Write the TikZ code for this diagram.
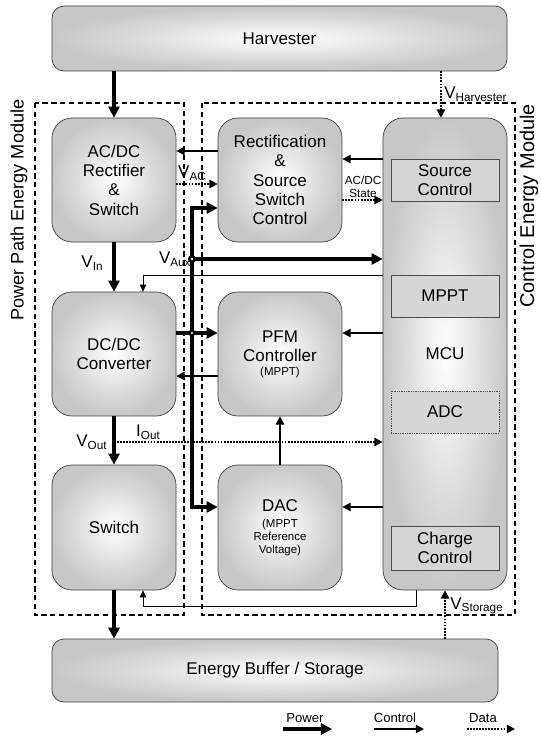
\documentclass[tikz,border=0pt]{standalone}
\usepackage{fontspec}
\setmainfont{Liberation Sans}
\usetikzlibrary{arrows.meta}

\newcommand{\sig}[2]{#1\raisebox{-0.3ex}{\fontsize{10}{10}\selectfont #2}}
\newcommand{\smallf}{\fontsize{9.8}{11}\selectfont}

\begin{document}
\begin{tikzpicture}[x=0.03cm, y=-0.03cm,
    blk/.style={draw=black!75, line width=0.6pt, rounded corners=0.6cm,
      inner color=white, outer color=black!22, align=center,
      minimum width=3.72cm, minimum height=3.72cm,
      font=\fontsize{14.5}{16.5}\selectfont},
    wide/.style={blk, rounded corners=0.36cm},
    sub/.style={draw=black!70, line width=0.5pt, fill=black!16, align=center,
      minimum width=3.24cm, minimum height=1.26cm,
      font=\fontsize{14.5}{16.5}\selectfont},
    module/.style={draw, line width=1.5pt, dash pattern=on 4.5pt off 3pt},
    modlbl/.style={rotate=90, font=\fontsize{15.5}{17}\selectfont},
    lbl/.style={font=\fontsize{14.5}{16}\selectfont, inner sep=1pt},
    pow/.style={line width=3pt, >={Triangle[length=9.5pt,width=9.5pt]}},
    ctl/.style={line width=1.6pt, >={Triangle[length=7pt,width=7pt]}},
    dat/.style={line width=1.6pt, densely dotted, >={Triangle[length=7pt,width=7pt]}},
    thin/.style={line width=0.7pt, >={Triangle[length=6pt,width=5.5pt]}},
  ]
  \useasboundingbox (0,0) rectangle (541,738);

  % modules
  \draw[module] (35,103) rectangle (184,615);
  \draw[module] (202,103) rectangle (515,615);
  \node[modlbl] (ppm) at (19,210) {Power Path Energy Module};
  \node[modlbl, font=\fontsize{17}{18}\selectfont] (cem) at (529,206) {Control Energy Module};

  % blocks
  \node[wide, minimum width=13.65cm, minimum height=1.95cm] (harv) at (279.5,38.5) {Harvester};
  \node[blk] (acdc) at (114,180) {AC/DC\\Rectifier\\\&\\Switch};
  \node[blk] (rect) at (280,180) {Rectification\\\&\\Source\\Switch\\Control};
  \node[blk] (dcdc) at (114,354) {DC/DC\\Converter};
  \node[blk] (pfm) at (280,354) {PFM\\Controller\\[-5pt]{\smallf (MPPT)}};
  \node[blk, minimum height=3.75cm] (sw) at (114,527.5) {Switch};
  \node[blk, minimum height=3.75cm] (dac) at (280,527.5)
    {DAC\\[-3pt]{\smallf (MPPT}\\[-5.5pt]{\smallf Reference}\\[-5.5pt]{\smallf Voltage)}};
  \node[blk, minimum height=14.16cm] (mcu) at (445,354) {MCU};
  \node[sub] (srcc) at (445,180) {Source\\Control};
  \node[sub] (mppt) at (445,296) {MPPT};
  \node[sub, densely dotted] (adc) at (445,412) {ADC};
  \node[sub, minimum height=1.32cm] (chg) at (445,548) {Charge\\Control};
  \node[wide, minimum width=13.38cm, minimum height=1.89cm] (buf) at (275,670.5) {Energy Buffer / Storage};

  % levels
  \coordinate (lvA) at (0,151);
  \coordinate (lvB) at (0,184);
  \coordinate (lvD) at (0,159);
  \coordinate (lvE) at (0,200);
  \coordinate (lvG) at (0,275);
  \coordinate (lvI) at (0,376);
  \coordinate (lvL) at (0,606);
  \coordinate (busT) at (192,208);
  \coordinate (busB) at (192,507);
  \coordinate (aux) at (192,259);
  \coordinate (jct) at (192,333);
  \coordinate (vout) at (114,442);
  \coordinate (vh) at (441,0);
  \coordinate (tx) at (143,0);
  \coordinate (bx) at (416,0);

  % power
  \draw[pow, ->] (harv.south -| acdc) -- (acdc.north);
  \draw[pow, ->] (acdc) -- (dcdc);
  \draw[pow, ->] (dcdc) -- (sw);
  \draw[pow, ->] (sw.south) -- (sw.south |- buf.north);
  \draw[pow, <->] (busT -| rect.west) -- (busT) -- (busB) -- (busB -| dac.west);
  \draw[pow, ->] (aux) -- (aux -| mcu.west);
  \draw[pow, ->] (jct -| dcdc.east) -- (jct -| pfm.west);
  \fill (aux) circle (3.4pt);
  \fill[white] (aux) circle (1.1pt);
  \fill (jct) circle (3pt);
  \fill[white] (jct) circle (1pt);

  % control
  \draw[ctl, ->] (lvA -| rect.west) -- (lvA -| acdc.east);
  \draw[ctl, ->] (lvD -| mcu.west) -- (lvD -| rect.east);
  \draw[ctl, ->] (jct -| mcu.west) -- (jct -| pfm.east);
  \draw[ctl, ->] (lvI -| pfm.west) -- (lvI -| dcdc.east);
  \draw[ctl, ->] (dac) -- (pfm);
  \draw[ctl, ->] (busB -| mcu.west) -- (busB -| dac.east);

  % data
  \draw[dat, ->] (harv.south -| vh) -- (mcu.north -| vh);
  \draw[dat, ->] (lvB -| acdc.east) -- (lvB -| rect.west);
  \draw[dat, ->] (lvE -| rect.east) -- (lvE -| mcu.west);
  \draw[dat, ->] (vout) -- (vout -| mcu.west);
  \draw[dat, ->] (buf.north -| mcu) -- (mcu.south);

  % thin lines
  \draw[thin, ->] (lvG -| mcu.west) -- (lvG -| tx) -- (tx |- dcdc.north);
  \draw[thin, ->] (mcu.south -| bx) -- (lvL -| bx) -- (lvL -| tx) -- (tx |- sw.south);

  % signal labels
  \node[lbl, right] (vharv) at (443,94) {\sig{V}{Harvester}};
  \node[lbl] (vac) at (192,173) {\sig{V}{AC}};
  \node[font=\fontsize{10}{11.5}\selectfont, align=center, inner sep=0pt] (acst) at (363,187) {AC/DC\\State};
  \node[lbl, left] (vin) at (104,263) {\sig{V}{In}};
  \node[lbl, left] (vaux) at (aux) {\sig{V}{Aux}};
  \node[lbl, left] (voutl) at (108,442) {\sig{V}{Out}};
  \node[lbl] (iout) at (148,432) {\sig{I}{Out}};
  \node[lbl, right] (vsto) at (449,606) {\sig{V}{Storage}};

  % legend
  \node[font=\fontsize{11.2}{12}\selectfont] (lgpow) at (305,718) {Power};
  \node[font=\fontsize{11.2}{12}\selectfont] (lgctl) at (395,718) {Control};
  \node[font=\fontsize{11.2}{12}\selectfont] (lgdat) at (483,718) {Data};
  \coordinate (lp1) at (283,729);
  \coordinate (lp2) at (332,729);
  \coordinate (lc1) at (374,729);
  \coordinate (lc2) at (424,729);
  \coordinate (ld1) at (467,729);
  \coordinate (ld2) at (515,729);
  \draw[pow, ->] (lp1) -- (lp2);
  \draw[ctl, ->] (lc1) -- (lc2);
  \draw[dat, ->] (ld1) -- (ld2);
\end{tikzpicture}
\end{document}
